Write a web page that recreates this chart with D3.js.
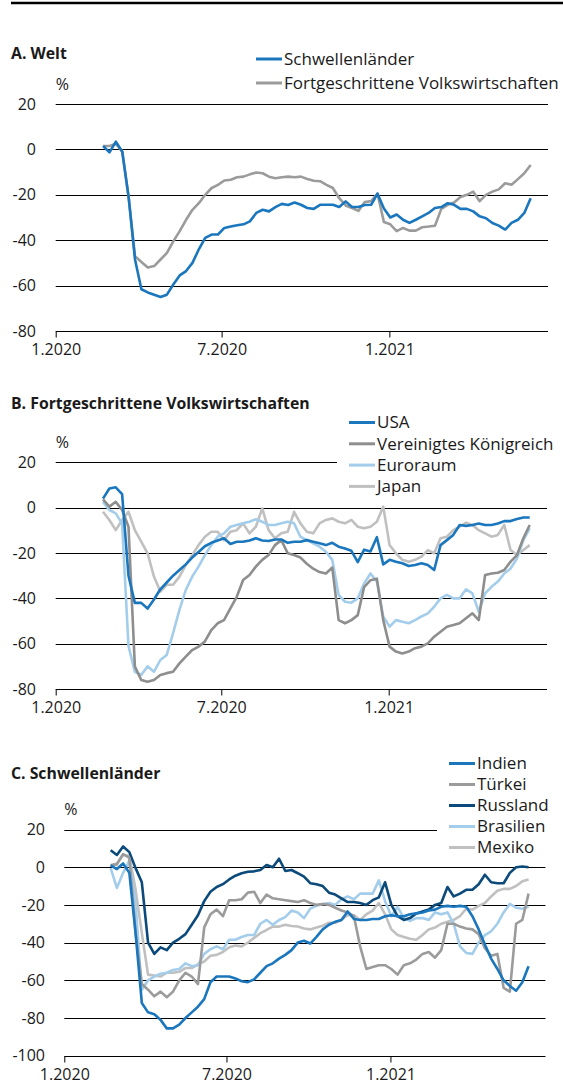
<!DOCTYPE html>
<html>
<head>
<meta charset="utf-8">
<script src="https://cdn.jsdelivr.net/npm/d3@7"></script>
<style>
    body { margin: 0; background: #fff; }
    svg { display: block; }
    text { font-family: "Open Sans", "Noto Sans", sans-serif; fill: #1a1a1a; }
</style>
</head>
<body>
<svg id="chart" width="563" height="1089"></svg>
<script>
// weekly observations, starting 22.02.2020
const firstWeek = new Date(2020, 1, 22);
const weekCount = 68;

// A. Welt
const welt_schwellen = [1.5, -1.3, 3.4, -1, -21, -48.5, -61.6, -63, -64, -65, -64, -59.5, -55.5, -53.6, -50, -44,
    -39, -37.5, -37.5, -34.6, -34, -33.4, -33, -31.7, -28, -26.6, -27.3, -25.4, -24, -24.5, -23.4,
    -24.4, -25.8, -26.2, -24.4, -24.4, -24.4, -25.4, -22.9, -25.4, -25.4, -24.5, -24.4, -19.5, -26,
    -30, -28.7, -31, -32.4, -31, -29.5, -28, -25.8, -25.4, -23.7, -24.4, -26.2, -26.2, -27.3, -29.5,
    -30.3, -32.4, -33.6, -35.3, -32.4, -31, -28, -21.5];
const welt_fortgeschritten = [1.5, 1.5, 2.5, -1, -21, -47, -49.6, -52, -51.4, -48.5, -45.6, -40.5, -36, -31, -26.6, -23.7,
    -20, -17, -15.6, -13.7, -13.4, -12.3, -12, -11, -10.2, -10.5, -12, -12.7, -12.3, -12, -12.3,
    -12, -13, -13.8, -14, -15.6, -17, -21.5, -24.7, -25.8, -27.1, -23.2, -22.8, -19.5, -32,
    -33, -36, -34.6, -35.8, -35.8, -34.3, -34, -33.6, -26.2, -24.4, -23.4, -21, -20, -18.6, -22.8,
    -20, -18.6, -17.6, -14.9, -15.6, -13.1, -10.5, -6.9];

// B. Fortgeschrittene Volkswirtschaften
const usa = [4, 8.5, 9, 6, -30, -42, -42, -44.5, -40.5, -36, -33, -30, -27.5, -25, -22, -19.5,
    -17, -15.5, -14.5, -13.5, -16, -15, -15, -14.5, -13.5, -14.5, -14.7, -14, -14, -15.5, -15,
    -15, -14.3, -15, -15.7, -16.5, -15.5, -17.2, -18, -19, -24, -18.5, -19.3, -13, -25,
    -23, -23.8, -24.5, -25.7, -25.3, -24.5, -25.3, -27.5, -16.5, -14.3, -12, -7.6, -8, -7.6, -7,
    -7.6, -7.6, -7, -5.9, -5.9, -5, -4.3, -4.3];
const uk = [3.7, 0.5, 2.6, -1, -8.4, -70, -76, -76.8, -76, -73.8, -73, -72.4, -68.7, -65.7, -62.8, -61.3,
    -59, -54, -51, -49.6, -44.4, -39.3, -31.9, -29.7, -26, -23, -20.9, -16.5, -14.3, -20.1, -20.9,
    -22, -24.7, -26.9, -28.4, -29, -26.4, -49.6, -51, -49.6, -47.4, -35, -32, -31.3, -49.6,
    -61.3, -63.5, -64.3, -63.5, -62, -61.3, -59.9, -56.9, -54.7, -52.5, -51.8, -51, -48.8, -46.6, -49.6,
    -29.7, -29, -28.7, -27.5, -23.8, -20.9, -13.5, -7.6];
const euroraum = [2.6, -1, -2.5, -7, -61, -72.4, -73.8, -70, -72.4, -67.2, -65, -55.4, -45.1, -36.3, -30.4, -26,
    -20.9, -16.5, -12.8, -11.3, -8.4, -7.6, -6.9, -6.2, -5.1, -6.2, -7.6, -7.6, -6.9, -6.2, -6.9,
    -12.8, -14.3, -15.7, -17.2, -19.4, -23, -38.5, -41.5, -41.9, -40, -33.4, -29, -32.6, -48,
    -52.5, -49.6, -50.3, -51, -49.6, -48, -46.6, -43.7, -40, -38.5, -40, -40, -36, -37.8, -45.9,
    -37.8, -34.9, -32.6, -29, -26.8, -22.4, -14.3, -9.1];
const japan = [-1.8, -5.4, -9.9, -5.4, -1.8, -9.9, -15, -20.1, -30.4, -37, -34, -34, -30.4, -25.3, -20.9, -16.5,
    -12.8, -10.6, -10.6, -14.3, -10.6, -9.9, -6.9, -11.3, -8.4, -0.3, -9.9, -13.5, -11.3, -10.6, -1.8,
    -6.9, -10.6, -11.3, -6.9, -5.4, -4.7, -6.2, -6.9, -5.4, -8.4, -9.1, -8.4, -6.2, 0.5,
    -16.5, -20.1, -23, -23.8, -23, -21.6, -18.7, -20.1, -13.5, -12.8, -9.9, -8.4, -6.6, -7.6, -9.9,
    -11.3, -12.8, -12, -7.6, -18.7, -20.9, -18.7, -16.5];

// C. Schwellenländer
const indien = [1, -1, 2, -3, -35, -72, -77, -78, -81, -85.5, -85.5, -83.5, -80, -77, -74, -70,
    -61, -58, -58, -58, -59, -60.5, -61, -59.5, -56, -52.5, -51, -48.5, -46.5, -44, -40,
    -39, -40.5, -37, -33, -30.5, -29, -28, -23.5, -27.5, -28, -28, -27.5, -27.5, -26,
    -25.5, -26, -26, -25, -24.5, -24, -23, -22.5, -21, -20.5, -21, -20.5, -21, -26, -33,
    -41, -48.5, -54, -60, -63, -65.5, -61, -52.5];
const tuerkei = [1, 1.5, 7, 5, -35, -62, -65, -68.5, -66, -69, -66, -60, -56, -58, -62, -32,
    -25, -22.5, -26, -17.5, -17.5, -17, -13.5, -13, -19, -14.5, -16.5, -17, -17.5, -18, -18.5,
    -17.5, -19, -20, -19.5, -20, -21.5, -23, -24, -26, -42, -54, -53, -52, -52,
    -54, -57, -52, -51, -49, -46, -45, -48, -44, -30, -30, -31.5, -32.5, -33, -35.5,
    -43, -47, -46, -64, -66, -30, -28, -14];
const russland = [9, 6.5, 11, 8, -0.5, -8, -40, -46, -42.5, -44, -40, -38, -35.5, -30.5, -25.5, -18,
    -13, -10.5, -9, -6.5, -4.5, -3.2, -2.4, -2.2, -1.5, 1.2, 0, 4.5, -2, -1.5, -3.2,
    -5, -8.5, -9, -10, -13.5, -14.5, -16.5, -18.5, -18.5, -19, -20, -17.5, -16, -8,
    -20, -26, -28, -27, -24.5, -23.5, -22.5, -20, -19, -10.5, -15.5, -14, -12, -12, -9,
    -4, -8, -8.5, -8.5, -3, 0, 0.4, 0];
const brasilien = [-0.5, -11, -3, 3.5, -20, -65, -60, -58, -56.5, -56, -54.5, -54, -51, -52.5, -52, -46,
    -43.5, -42, -43.5, -38.5, -38.5, -37, -36, -36, -30, -28, -30.5, -28, -26.5, -23, -24,
    -27, -22, -20.5, -19.5, -19, -20, -17, -15.5, -17, -14, -14, -14, -7, -18,
    -26, -21, -27, -28.5, -27, -27, -28, -24, -25, -24, -30, -42, -45.5, -46, -40,
    -36, -34, -30, -24, -19.5, -21.5, -22, -21];
const mexiko = [1, 2, 6.5, 6, -12, -35, -57, -57.5, -58, -56, -56, -55.5, -53.5, -53.5, -51.5, -50,
    -47, -46.5, -45, -42.5, -41.5, -42, -40, -37.5, -35, -33.3, -31.5, -31.5, -30.5, -31.2, -31.5,
    -32.5, -33, -32, -31, -29.5, -29.5, -28, -25.3, -25.5, -28, -25, -23, -19, -25,
    -33, -36, -37, -38, -38.5, -36, -33, -32, -30, -29, -28, -26, -22, -22.5, -20.5,
    -19, -15.5, -12.5, -11.5, -11.5, -10, -7.5, -6.5];

const xTicks = [new Date(2020, 0, 1), new Date(2020, 6, 1), new Date(2021, 0, 1)];
const xDomain = [new Date(2020, 0, 1), new Date(2021, 5, 24)];

const blue = '#1a76bd';
const darkBlue = '#0b4a7a';
const lightBlue = '#a3cdea';
const grey = '#9b9b9b';
const midGrey = '#8e8e8e';
const lightGrey = '#c0c0c0';

const dates = d3.range(weekCount).map(i => d3.timeDay.offset(firstWeek, 7 * i));

const svg = d3.select('#chart');

// rule across the top
svg.append('line')
    .attr('x1', 11).attr('x2', 563)
    .attr('y1', 3).attr('y2', 3)
    .attr('stroke', '#000').attr('stroke-width', 2.5);

function drawPanel(p) {
    const g = svg.append('g');

    const x = d3.scaleTime().domain(xDomain).range([p.left, p.right]);
    const y = d3.scaleLinear().domain([p.yMin, 20]).range([p.bottom, p.top]);
    const yTicks = d3.range(p.yMin, 21, 20);

    g.append('text')
        .attr('x', 11).attr('y', p.titleY)
        .attr('dy', '0.35em')
        .style('font-weight', 'bold')
        .style('font-size', '15.8px')
        .text(p.title);

    g.append('text')
        .attr('x', p.left).attr('y', y(20) - 20)
        .attr('dy', '0.35em')
        .style('font-size', '16px')
        .text('%');

    // grid lines
    g.append('g').selectAll('line')
        .data(yTicks.filter(d => d !== p.yMin))
        .enter().append('line')
        .attr('x1', p.left).attr('x2', p.right)
        .attr('y1', d => Math.round(y(d)) + 0.5).attr('y2', d => Math.round(y(d)) + 0.5)
        .attr('stroke', '#000').attr('stroke-width', 1);

    g.append('g').selectAll('text')
        .data(yTicks)
        .enter().append('text')
        .attr('x', p.labelRight).attr('y', d => y(d))
        .attr('dy', '0.35em')
        .attr('text-anchor', 'end')
        .style('font-size', '16px')
        .text(d => d);

    const xAxis = g.append('g')
        .attr('transform', `translate(0, ${Math.round(y(p.yMin)) + 0.5})`)
        .call(d3.axisBottom(x).tickValues(xTicks).tickSize(6).tickPadding(6)
            .tickFormat(d => `${d.getMonth() + 1}.${d.getFullYear()}`));
    xAxis.select('.domain').attr('stroke', '#000').attr('d', `M${p.left},0H${p.right}`);
    xAxis.selectAll('.tick line').attr('stroke', '#000');
    xAxis.selectAll('.tick text')
        .style('font-size', '16px')
        .style('font-family', '"Open Sans", sans-serif')
        .attr('fill', '#1a1a1a');

    const line = d3.line()
        .x((d, i) => x(dates[i]))
        .y(d => y(d));

    // draw in reverse so the first series sits on top
    p.series.slice().reverse().forEach(s => {
        g.append('path')
            .datum(s.values)
            .attr('fill', 'none')
            .attr('stroke', s.color)
            .attr('stroke-width', 2.6)
            .attr('stroke-linejoin', 'round')
            .attr('d', line);
    });

    // legend with a white box behind it
    const lg = g.append('g');
    if (p.legendBox) {
        lg.append('rect')
            .attr('x', p.legendX - 12).attr('y', p.legendY - 11)
            .attr('width', 563 - p.legendX + 12)
            .attr('height', p.legendStep * (p.series.length - 1) + 22)
            .attr('fill', '#fff');
    }
    p.series.forEach((s, i) => {
        const ly = p.legendY + i * p.legendStep;
        lg.append('line')
            .attr('x1', p.legendX).attr('x2', p.legendX + 26)
            .attr('y1', ly).attr('y2', ly)
            .attr('stroke', s.color).attr('stroke-width', 3);
        lg.append('text')
            .attr('x', p.legendX + 28).attr('y', ly)
            .attr('dy', '0.35em')
            .style('font-size', '17px')
            .text(s.name);
    });
}

drawPanel({
    title: 'A. Welt', titleY: 53,
    left: 55.7, right: 548, top: 104, bottom: 331, yMin: -80, labelRight: 36,
    legendX: 256, legendY: 59, legendStep: 24, legendBox: false,
    series: [
        {name: 'Schwellenländer', values: welt_schwellen, color: blue},
        {name: 'Fortgeschrittene Volkswirtschaften', values: welt_fortgeschritten, color: grey}
    ]
});

drawPanel({
    title: 'B. Fortgeschrittene Volkswirtschaften', titleY: 403,
    left: 55.7, right: 547, top: 462.4, bottom: 689, yMin: -80, labelRight: 36,
    legendX: 349, legendY: 422.5, legendStep: 21.3, legendBox: true,
    series: [
        {name: 'USA', values: usa, color: blue},
        {name: 'Vereinigtes Königreich', values: uk, color: midGrey},
        {name: 'Euroraum', values: euroraum, color: lightBlue},
        {name: 'Japan', values: japan, color: lightGrey}
    ]
});

drawPanel({
    title: 'C. Schwellenländer', titleY: 773,
    left: 64.3, right: 545.5, top: 829.5, bottom: 1055.7, yMin: -100, labelRight: 45,
    legendX: 449, legendY: 763.5, legendStep: 21, legendBox: true,
    series: [
        {name: 'Indien', values: indien, color: blue},
        {name: 'Türkei', values: tuerkei, color: grey},
        {name: 'Russland', values: russland, color: darkBlue},
        {name: 'Brasilien', values: brasilien, color: lightBlue},
        {name: 'Mexiko', values: mexiko, color: lightGrey}
    ]
});
</script>
</body>
</html>
